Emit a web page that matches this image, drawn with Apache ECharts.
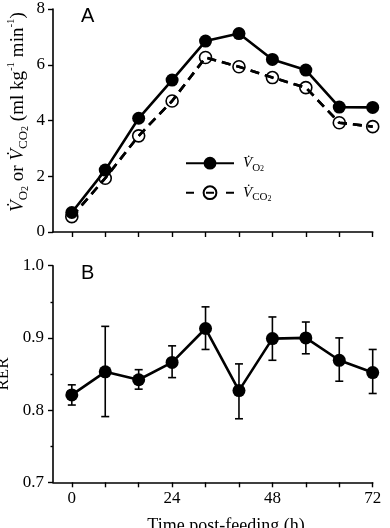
<!DOCTYPE html>
<html>
<head>
<meta charset="utf-8">
<script src="https://cdn.jsdelivr.net/npm/echarts@6/dist/echarts.min.js"></script>
<style>
    html, body { margin: 0; padding: 0; background: #fff; }
    #chart { width: 390px; height: 528px; }
</style>
</head>
<body>
<div id="chart"></div>
<script>
    // time after feeding (h)
    const hours = [0, 8, 16, 24, 32, 40, 48, 56, 64, 72];
    // panel A, ml kg-1 min-1
    const vo2 = [0.70, 2.22, 4.08, 5.45, 6.85, 7.12, 6.19, 5.81, 4.48, 4.47];
    const vco2 = [0.55, 1.93, 3.45, 4.70, 6.26, 5.93, 5.54, 5.18, 3.92, 3.78];
    // panel B, RER with error bar ends
    const rer = [0.821, 0.853, 0.842, 0.866, 0.913, 0.827, 0.899, 0.900, 0.869, 0.852];
    const rerHigh = [0.835, 0.916, 0.856, 0.889, 0.943, 0.864, 0.929, 0.922, 0.900, 0.884];
    const rerLow = [0.807, 0.791, 0.829, 0.845, 0.884, 0.788, 0.869, 0.878, 0.840, 0.823];
    // ticks
    const xTicks = [0, 8, 16, 24, 32, 40, 48, 56, 64, 72];
    const xLabels = [0, 24, 48, 72];

    const serif = 'Liberation Serif';
    const black = '#000';

    const myChart = echarts.init(document.getElementById('chart'));

    // legend text (small)
    const legendRich = {
        v: { fontFamily: serif, fontStyle: 'italic', fontSize: 15, lineHeight: 20, color: black },
        s: { fontFamily: serif, fontSize: 11, lineHeight: 11, verticalAlign: 'bottom', color: black },
        ss: { fontFamily: serif, fontSize: 8, lineHeight: 6, verticalAlign: 'bottom', color: black }
    };
    // y axis title of panel A (bigger)
    const titleRich = {
        v: { fontFamily: serif, fontStyle: 'italic', fontSize: 19, lineHeight: 24, color: black },
        s: { fontFamily: serif, fontSize: 13, lineHeight: 13, verticalAlign: 'bottom', color: black },
        ss: { fontFamily: serif, fontSize: 10, lineHeight: 7, verticalAlign: 'bottom', color: black },
        t: { fontFamily: serif, fontSize: 19, lineHeight: 24, color: black },
        sup: { fontFamily: serif, fontSize: 11, lineHeight: 11, verticalAlign: 'top', color: black }
    };

    function xAxisOf(grid, withLabels) {
        return {
            type: 'value',
            gridIndex: grid,
            min: -4.5,
            max: 72,
            splitLine: { show: false },
            axisLine: { onZero: false, lineStyle: { color: black, width: 1.6 } },
            axisTick: { show: true, length: 5, customValues: xTicks, lineStyle: { color: black, width: 1.4 } },
            axisLabel: {
                show: withLabels,
                customValues: xLabels,
                margin: 8,
                fontFamily: serif,
                fontSize: 17,
                color: black
            }
        };
    }

    const option = {
        animation: false,
        grid: [
            { left: 53, width: 319.7, top: 9, height: 223, containLabel: false, outerBoundsMode: 'none' },
            { left: 53, width: 319.7, top: 265.7, height: 216.6, containLabel: false, outerBoundsMode: 'none' }
        ],
        xAxis: [xAxisOf(0, false), xAxisOf(1, true)],
        yAxis: [
            {
                type: 'value',
                gridIndex: 0,
                min: 0,
                max: 8,
                interval: 2,
                splitLine: { show: false },
                axisLine: { show: true, onZero: false, lineStyle: { color: black, width: 1.6 } },
                axisTick: { show: true, length: 5, lineStyle: { color: black, width: 1.4 } },
                axisLabel: { margin: 8, fontFamily: serif, fontSize: 17, color: black }
            },
            {
                type: 'value',
                gridIndex: 1,
                min: 0.7,
                max: 1.0,
                interval: 0.1,
                splitLine: { show: false },
                axisLine: { show: true, onZero: false, lineStyle: { color: black, width: 1.6 } },
                axisTick: { show: true, length: 5, lineStyle: { color: black, width: 1.4 } },
                minorTick: { show: true, splitNumber: 2, length: 2.5, lineStyle: { color: black, width: 1.4 } },
                axisLabel: {
                    margin: 9,
                    fontFamily: serif,
                    fontSize: 17,
                    color: black,
                    formatter: v => v.toFixed(1)
                },
                name: 'RER',
                nameLocation: 'middle',
                nameRotate: 90,
                nameGap: 40,
                nameTextStyle: { fontFamily: serif, fontSize: 17, color: black }
            }
        ],
        legend: {
            data: [
                { name: 'vo2' },
                { name: 'vco2', lineStyle: { type: [8, 12] } }
            ],
            orient: 'vertical',
            left: 185,
            top: 155.7,
            padding: 0,
            itemWidth: 48,
            itemHeight: 16,
            itemGap: 10.6,
            selectedMode: false,
            formatter: name => name === 'vo2' ? '{v|V̇}{s|O}{ss|2}' : '{v|V̇}{s|CO}{ss|2}',
            textStyle: { padding: [0, 0, 0, 4], rich: legendRich }
        },
        graphic: [
            {
                type: 'text', left: 81, top: 6,
                style: { text: 'A', fontFamily: 'Liberation Sans', fontSize: 20, fill: black }
            },
            {
                type: 'text', left: 81, top: 263,
                style: { text: 'B', fontFamily: 'Liberation Sans', fontSize: 20, fill: black }
            },
            {
                type: 'text',
                x: 18, y: 112,
                rotation: Math.PI / 2,
                style: {
                    text: '{v|V̇}{s|O}{ss|2}{t| or }{v|V̇}{s|CO}{ss|2}{t| (ml kg}{sup|-1}{t| min}{sup|-1}{t|)}',
                    rich: titleRich,
                    align: 'center',
                    verticalAlign: 'middle'
                }
            },
            {
                type: 'text',
                x: 226, y: 517,
                style: {
                    text: 'Time post-feeding (h)',
                    fontFamily: serif, fontSize: 18, fill: black,
                    align: 'center', verticalAlign: 'top'
                }
            }
        ],
        series: [
            {
                name: 'vo2',
                type: 'line',
                xAxisIndex: 0,
                yAxisIndex: 0,
                data: hours.map((h, i) => [h, vo2[i]]),
                symbol: 'circle',
                symbolSize: 13,
                itemStyle: { color: black },
                lineStyle: { color: black, width: 2.6 },
                z: 4
            },
            {
                name: 'vco2',
                type: 'line',
                xAxisIndex: 0,
                yAxisIndex: 0,
                data: hours.map((h, i) => [h, vco2[i]]),
                symbol: 'circle',
                symbolSize: 12,
                itemStyle: { color: 'none', borderColor: black, borderWidth: 1.6 },
                lineStyle: { color: black, width: 2.6, type: [9, 6] },
                z: 2
            },
            {
                // same dashed line again, above the open circles
                name: 'vco2Line',
                type: 'line',
                xAxisIndex: 0,
                yAxisIndex: 0,
                data: hours.map((h, i) => [h, vco2[i]]),
                symbol: 'none',
                silent: true,
                lineStyle: { color: black, width: 2.6, type: [9, 6] },
                z: 3
            },
            {
                name: 'rerErr',
                type: 'custom',
                xAxisIndex: 1,
                yAxisIndex: 1,
                silent: true,
                encode: { x: 0, y: [1, 2] },
                data: hours.map((h, i) => [h, rerLow[i], rerHigh[i]]),
                renderItem: function (params, api) {
                    const lo = api.coord([api.value(0), api.value(1)]);
                    const hi = api.coord([api.value(0), api.value(2)]);
                    const cap = 4;
                    const style = { stroke: black, lineWidth: 1.6 };
                    return {
                        type: 'group',
                        children: [
                            { type: 'line', shape: { x1: lo[0], y1: lo[1], x2: hi[0], y2: hi[1] }, style: style },
                            { type: 'line', shape: { x1: lo[0] - cap, y1: lo[1], x2: lo[0] + cap, y2: lo[1] }, style: style },
                            { type: 'line', shape: { x1: hi[0] - cap, y1: hi[1], x2: hi[0] + cap, y2: hi[1] }, style: style }
                        ]
                    };
                },
                z: 1
            },
            {
                name: 'rer',
                type: 'line',
                xAxisIndex: 1,
                yAxisIndex: 1,
                data: hours.map((h, i) => [h, rer[i]]),
                symbol: 'circle',
                symbolSize: 13,
                itemStyle: { color: black },
                lineStyle: { color: black, width: 2.6 },
                z: 3
            }
        ]
    };

    myChart.setOption(option);
</script>
</body>
</html>
